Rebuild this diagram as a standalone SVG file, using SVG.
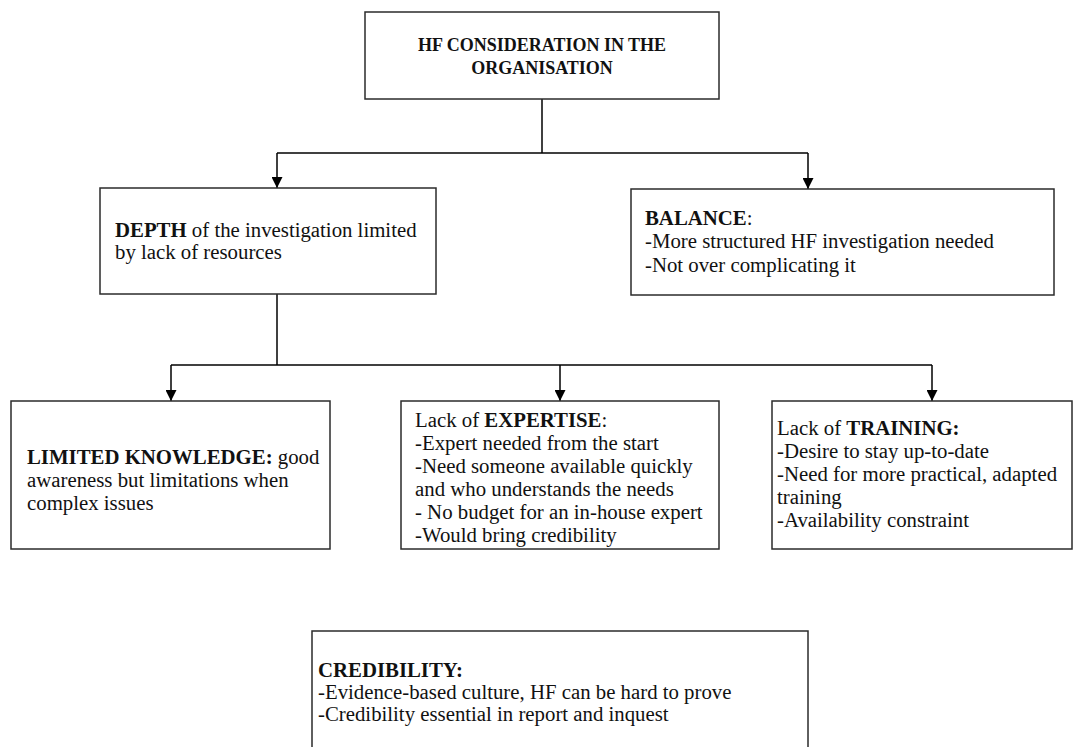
<svg xmlns="http://www.w3.org/2000/svg" width="1083" height="747" viewBox="0 0 1083 747">
  <style>
    .box { fill: #ffffff; stroke: #2b2b2b; stroke-width: 1.5; }
    .wire { fill: none; stroke: #000000; stroke-width: 1.5; }
    text { font-family: "Liberation Serif", "Times New Roman", serif; font-size: 20.8px; fill: #111111; }
    .b { font-weight: bold; }
    .title { font-weight: bold; text-anchor: middle; font-size: 18px; }
  </style>
  <defs>
    <marker id="arrow" viewBox="0 0 10 10" refX="10" refY="5" markerWidth="11" markerHeight="11" markerUnits="userSpaceOnUse" orient="auto">
      <path d="M0,0 L10,5 L0,10 Z" fill="#000000"/>
    </marker>
  </defs>

  <rect width="1083" height="747" fill="#ffffff"/>

  <g id="connectors">
    <path class="wire" d="M542,99 V153"/>
    <path class="wire" d="M277,153 H808"/>
    <path class="wire" d="M277,153 V188" marker-end="url(#arrow)"/>
    <path class="wire" d="M808,153 V189" marker-end="url(#arrow)"/>
    <path class="wire" d="M277,294 V365"/>
    <path class="wire" d="M171,365 H932"/>
    <path class="wire" d="M171,365 V401" marker-end="url(#arrow)"/>
    <path class="wire" d="M560,365 V401" marker-end="url(#arrow)"/>
    <path class="wire" d="M932,365 V401" marker-end="url(#arrow)"/>
  </g>

  <g id="hf-consideration">
    <rect class="box" x="365" y="12" width="354" height="87"/>
    <text class="title" x="542" y="51">HF CONSIDERATION IN THE</text>
    <text class="title" x="542" y="74">ORGANISATION</text>
  </g>

  <g id="depth">
    <rect class="box" x="100" y="188" width="336" height="106"/>
    <text x="115" y="237"><tspan class="b">DEPTH</tspan> of the investigation limited</text>
    <text x="115" y="259">by lack of resources</text>
  </g>

  <g id="balance">
    <rect class="box" x="631" y="189" width="423" height="106"/>
    <text x="645" y="225"><tspan class="b">BALANCE</tspan>:</text>
    <text x="645" y="248">-More structured HF investigation needed</text>
    <text x="645" y="272">-Not over complicating it</text>
  </g>

  <g id="limited-knowledge">
    <rect class="box" x="11" y="401" width="319" height="148"/>
    <text x="27" y="464"><tspan class="b">LIMITED KNOWLEDGE:</tspan> good</text>
    <text x="27" y="487">awareness but limitations when</text>
    <text x="27" y="510">complex issues</text>
  </g>

  <g id="expertise">
    <rect class="box" x="401" y="401" width="318" height="148"/>
    <text x="415" y="427">Lack of <tspan class="b">EXPERTISE</tspan>:</text>
    <text x="415" y="450">-Expert needed from the start</text>
    <text x="415" y="473">-Need someone available quickly</text>
    <text x="415" y="496">and who understands the needs</text>
    <text x="415" y="519">- No budget for an in-house expert</text>
    <text x="415" y="542">-Would bring credibility</text>
  </g>

  <g id="training">
    <rect class="box" x="772" y="401" width="300" height="148"/>
    <text x="777" y="435">Lack of <tspan class="b">TRAINING:</tspan></text>
    <text x="777" y="458">-Desire to stay up-to-date</text>
    <text x="777" y="481">-Need for more practical, adapted</text>
    <text x="777" y="504">training</text>
    <text x="777" y="527">-Availability constraint</text>
  </g>

  <g id="credibility">
    <rect class="box" x="312" y="631" width="496" height="130"/>
    <text x="318" y="677" class="b">CREDIBILITY:</text>
    <text x="318" y="699">-Evidence-based culture, HF can be hard to prove</text>
    <text x="318" y="721">-Credibility essential in report and inquest</text>
  </g>
</svg>
